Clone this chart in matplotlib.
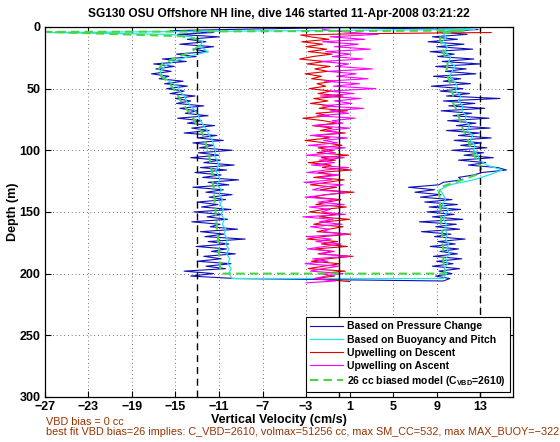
import numpy as np
import matplotlib
matplotlib.use('Agg')
import matplotlib.pyplot as plt

plt.rcParams['font.family'] = ['Liberation Sans', 'DejaVu Sans']
plt.rcParams['font.weight'] = 'bold'
plt.rcParams['mathtext.fontset'] = 'custom'
plt.rcParams['mathtext.rm'] = 'Liberation Sans:bold'
plt.rcParams['mathtext.bf'] = 'Liberation Sans:bold'

# ---- data (velocity in cm/s, depth in m) ----
# descent, pressure based (depth 6..204 step 2)
depth_down_p = np.arange(6, 206, 2)
w_down_p = [-14.8, -11.0, -13.9, -12.2, -14.6, -11.5, -13.4, -12.0, -14.9, -13.1,
            -16.2, -14.0, -17.0, -15.1, -16.8, -15.4, -17.2, -15.6, -16.5, -14.3,
            -16.0, -13.9, -15.8, -14.2, -15.5, -13.2, -15.0, -13.6, -14.9, -12.4,
            -14.6, -13.0, -14.1, -12.0, -14.8, -12.6, -13.9, -11.4, -13.5, -11.9,
            -14.2, -11.2, -13.0, -10.6, -13.4, -11.5, -12.8, -9.8, -12.9, -11.0,
            -13.6, -10.9, -12.4, -9.6, -12.7, -10.3, -13.2, -10.8, -12.5, -9.2,
            -12.0, -10.1, -13.4, -10.6, -12.2, -9.8, -11.9, -10.4, -13.0, -11.1,
            -12.6, -9.9, -13.3, -10.7, -12.1, -10.2, -13.5, -10.9, -11.8, -9.3,
            -12.7, -10.5, -12.3, -8.6, -12.0, -10.1, -13.1, -10.3, -11.7, -9.5,
            -12.4, -10.8, -13.0, -9.9, -12.2, -10.4, -14.2, -11.5, -13.6, -9.5]
# ascent, pressure based (depth 4..206 step 2)
depth_up_p = np.arange(4, 208, 2)
w_up_p = [9.2, 11.8, 8.6, 10.9, 8.2, 11.5, 9.0, 12.3, 8.4, 10.6,
          9.1, 12.4, 9.5, 13.0, 8.9, 11.7, 9.8, 12.6, 8.7, 11.2,
          9.6, 12.1, 8.5, 11.4, 9.3, 12.0, 9.9, 14.8, 9.6, 12.5,
          10.1, 13.4, 9.4, 12.2, 10.5, 13.8, 10.0, 12.6, 10.8, 13.9,
          9.9, 12.9, 11.0, 14.0, 10.6, 13.1, 11.2, 13.6, 10.4, 13.3,
          11.5, 14.2, 11.0, 13.5, 11.9, 14.6, 15.4, 13.2, 12.4, 11.0,
          11.3, 9.6, 9.2, 6.4, 8.8, 7.0, 9.4, 7.5, 10.4, 7.9,
          10.9, 8.3, 11.2, 8.1, 10.6, 8.6, 11.4, 7.4, 10.8, 8.9,
          11.1, 7.6, 10.3, 8.8, 11.6, 9.1, 10.7, 8.4, 11.0, 9.3,
          10.9, 8.7, 11.3, 9.0, 10.5, 8.6, 11.1, 9.2, 10.4, 8.9,
          10.2, 9.6]
p_top_down_w = [1.0, -7.0, -15.5, -11.5]
p_top_down_d = [0.5, 1.5, 3.0, 4.5]
p_top_up_w = [12.8, 1.0]
p_top_up_d = [2.0, 0.8]

# buoyancy and pitch model
depth_down_b = np.arange(8, 208, 4)
w_down_b = [-13.5, -12.5, -12.8, -12.0, -13.8, -15.2, -16.0, -16.4, -16.2, -15.6,
            -14.8, -14.6, -14.2, -14.0, -13.6, -13.2, -12.9, -12.7, -12.4, -12.1,
            -11.9, -11.6, -11.5, -11.3, -11.4, -11.2, -11.0, -11.3, -11.1, -10.9,
            -11.2, -10.8, -11.0, -10.7, -10.9, -10.6, -10.8, -10.5, -10.7, -10.4,
            -10.5, -10.2, -10.4, -10.1, -10.3, -10.0, -10.2, -9.9, -10.1, -9.8]
depth_up_b = np.arange(4, 208, 4)
w_up_b = [9.4, 9.9, 9.5, 10.0, 9.7, 10.3, 10.1, 10.7, 10.4, 10.2,
          10.6, 10.9, 10.7, 11.2, 11.0, 11.4, 11.3, 11.7, 11.6, 12.0,
          11.8, 12.3, 12.1, 12.5, 12.4, 12.8, 12.9, 13.6, 15.0, 13.8,
          12.4, 10.2, 9.3, 9.6, 9.8, 9.5, 10.1, 9.8, 9.6, 9.9,
          9.7, 10.0, 9.8, 10.1, 9.9, 10.2, 9.8, 10.0, 9.7, 9.9,
          9.6]
b_top_down_w = [12.5, -26.8, -15.5]
b_top_down_d = [2.0, 4.5, 6.0]
b_top_up_w = [12.0]
b_top_up_d = [1.0]

# 26 cc biased model
depth_down_m = np.arange(10, 205, 5)
w_down_m = [-13.0, -12.8, -13.5, -15.0, -16.2, -16.6, -16.3, -15.6, -15.2, -14.8,
            -14.5, -14.1, -13.7, -13.3, -13.0, -12.6, -12.4, -12.2, -12.0, -11.9,
            -11.8, -11.7, -11.6, -11.6, -11.5, -11.5, -11.4, -11.4, -11.3, -11.3,
            -11.2, -11.2, -11.1, -11.1, -11.0, -11.0, -10.9, -10.9, -10.8]
depth_up_m = np.arange(5, 205, 5)
w_up_m = [9.4, 9.3, 9.5, 9.6, 9.8, 10.0, 9.9, 10.0, 10.2, 10.3,
          10.5, 10.4, 10.7, 10.9, 11.1, 11.3, 11.5, 11.8, 12.0, 12.2,
          12.5, 12.8, 13.1, 12.6, 11.0, 9.3, 9.2, 9.3, 9.3, 9.4,
          9.4, 9.4, 9.5, 9.5, 9.5, 9.6, 9.6, 9.6, 9.7, 9.7]
m_top_down_w = [11.0, -26.8, -14.5]
m_top_down_d = [3.0, 4.0, 7.5]
m_top_up_w = [12.0]
m_top_up_d = [2.5]

# upwelling on descent
depth_down_u = np.arange(8, 206, 2)
w_down_u = [-2.6, -0.9, -3.4, -1.5, -3.0, -1.1, -2.8, -0.6, -2.4, -3.6,
            -1.3, -2.9, -0.8, -2.2, -1.0, -3.1, -1.6, -2.5, -0.4, -2.0,
            -1.2, -2.7, -0.7, -1.9, 0.4, -2.3, -1.0, -2.6, -0.5, -1.8,
            0.8, -2.1, -0.9, -3.3, -1.4, -0.2, -2.4, -0.6, -1.7, 0.6,
            -2.2, -0.8, -3.1, -1.2, 0.3, -1.9, -0.5, -2.0, 0.9, -1.6,
            -0.3, -2.8, -0.7, -1.5, 1.2, -1.9, -0.4, -2.3, 0.5, -1.1,
            -2.6, -0.2, -1.7, 1.4, -1.3, -2.4, 0.2, -1.0, -2.1, 0.7,
            -1.4, -2.7, -0.3, -1.8, 1.0, -1.2, -2.3, 0.4, -0.9, -2.0,
            1.1, -1.5, -2.9, -0.1, -1.6, 0.8, -2.2, -0.6, -1.9, 1.3,
            -1.1, -2.5, 0.1, -1.4, -2.8, 0.6, -1.7, -0.4, -2.2]
u_top_down_w = [14.0, 1.5, -3.5]
u_top_down_d = [4.5, 5.5, 6.5]
u_bot_down_w = [1.0]
u_bot_down_d = [206.5]

# upwelling on ascent
depth_up_u = np.arange(4, 208, 2)
w_up_u = [0.5, 3.6, -0.8, 2.4, -1.5, 1.8, -0.4, 2.9, -1.2, 1.1,
          -0.6, 2.2, -1.6, 0.9, -0.3, 3.1, -1.0, 1.6, -0.2, 2.7,
          -1.3, 1.9, -0.5, 3.4, -0.9, 1.4, -1.7, 2.0, -0.4, 1.2,
          -1.5, 2.3, -0.8, 0.9, -2.0, 1.5, -0.6, 0.4, -2.3, 1.0,
          -1.1, 0.2, -2.6, 0.8, -1.4, -0.1, -2.8, 0.6, -1.6, -0.3,
          -3.0, 0.5, -1.8, -0.4, -2.5, 0.9, -1.2, -2.9, 0.1, -1.7,
          -0.6, -3.2, 0.4, -1.5, -2.4, 0.7, -1.0, -3.1, -0.2, -1.9,
          0.5, -2.7, -0.8, -1.6, 0.6, -3.3, -0.5, -1.8, 0.3, -2.6,
          -0.9, -1.4, 0.8, -3.0, -0.7, -2.1, 0.2, -1.3, -2.9, -0.4,
          -1.7, 0.9, -2.4, -1.0, -3.1, 0.0, -1.5, -2.6, 0.4, -1.2,
          -2.2, -0.3]
a_bot_up_w = [-3.0]
a_bot_up_d = [207.5]
a_top_up_w = [-1.5]
a_top_up_d = [2.0]

xticks = [-27, -23, -19, -15, -11, -7, -3, 1, 5, 9, 13]
yticks = [0, 50, 100, 150, 200, 250, 300]
w_limits = [-13, 0, 13]
title = 'SG130 OSU Offshore NH line, dive 146 started 11-Apr-2008 03:21:22'
note1 = 'VBD bias = 0 cc'
note2 = ('best fit VBD bias=26 implies: C_VBD=2610, volmax=51256 cc, '
         'max SM_CC=532, max MAX_BUOY=\u2212322')


def whole_dive(top_w, top_d, dw, dd, uw, ud, end_w=(), end_d=()):
    # one continuous trace: surface, descent, bottom, ascent (reversed), surface
    w = list(top_w) + list(dw) + list(uw)[::-1] + list(end_w)
    d = list(top_d) + list(dd) + list(ud)[::-1] + list(end_d)
    return w, d


fig = plt.figure(figsize=(5.6, 4.42), dpi=100)
ax = fig.add_axes([0.080, 0.102, 0.836, 0.837])

w, d = whole_dive(p_top_down_w, p_top_down_d, w_down_p, depth_down_p,
                  w_up_p, depth_up_p, p_top_up_w, p_top_up_d)
ax.plot(w, d, color='#1010b8', lw=0.8, label='Based on Pressure Change')
w, d = whole_dive(b_top_down_w, b_top_down_d, w_down_b, depth_down_b,
                  w_up_b, depth_up_b, b_top_up_w, b_top_up_d)
ax.plot(w, d, color='#22e6e6', lw=0.9, label='Based on Buoyancy and Pitch')
ax.plot(u_top_down_w + w_down_u + u_bot_down_w,
        u_top_down_d + list(depth_down_u) + u_bot_down_d,
        color='#e00000', lw=0.8, label='Upwelling on Descent')
ax.plot(a_bot_up_w + w_up_u[::-1] + a_top_up_w,
        a_bot_up_d + list(depth_up_u)[::-1] + a_top_up_d,
        color='#ff00ff', lw=0.8, label='Upwelling on Ascent')
w, d = whole_dive(m_top_down_w, m_top_down_d, w_down_m, depth_down_m,
                  w_up_m, depth_up_m, m_top_up_w, m_top_up_d)
ax.plot(w, d, color='#44d844', lw=1.5, dashes=(4, 2.5),
        label='26 cc biased model (C$_{\\mathregular{VBD}}$=2610)')

for x in w_limits:
    if x == 0:
        ax.axvline(x, color='black', lw=1.0)
    else:
        ax.axvline(x, color='black', lw=1.0, dashes=(5, 3.5))

ax.set_xlim(-27, 16)
ax.set_ylim(300, 0)
ax.set_xticks(xticks)
ax.set_yticks(yticks)
ax.grid(True, color='#444444', lw=0.6, linestyle=(0, (1, 3.5)))
ax.tick_params(direction='in', top=True, right=True, length=4, width=0.8,
               labelsize=9, pad=3)
for s in ax.spines.values():
    s.set_linewidth(0.9)

ax.set_title(title, fontsize=8.6, fontweight='bold', pad=7)
ax.set_xlabel('Vertical Velocity (cm/s)', fontsize=9, fontweight='bold',
              labelpad=1)
ax.set_ylabel('Depth (m)', fontsize=9, fontweight='bold')
ax.yaxis.set_label_coords(-0.056, 0.5)

leg = ax.legend(loc='lower right', bbox_to_anchor=(0.994, 0.013),
                fontsize=7.5, fancybox=False, edgecolor='black',
                framealpha=1, handlelength=3.2, labelspacing=0.3,
                borderpad=0.4, handletextpad=0.4, borderaxespad=0)
leg.get_frame().set_linewidth(0.8)

fig.text(0.082, 0.045, note1, fontsize=7.8, fontweight='normal',
         color='#993300', va='center')
fig.text(0.082, 0.022, note2, fontsize=7.8, fontweight='normal',
         color='#993300', va='center')

fig.savefig('out.png', dpi=100)
